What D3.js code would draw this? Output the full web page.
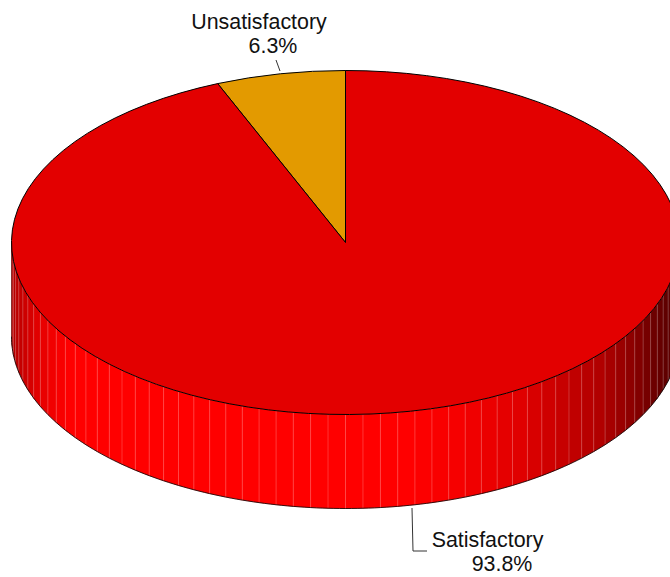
<!DOCTYPE html>
<html><head><meta charset="utf-8">
<script src="https://cdn.jsdelivr.net/npm/d3@7"></script>
<style>html,body{margin:0;padding:0;background:#fff}svg{display:block}text{font-family:"Liberation Sans",Arial,sans-serif;font-size:21.4px;fill:#111}</style>
</head><body><div id="c"></div>
<script>
const categories = ["Unsatisfactory", "Satisfactory"];
const values = [6.25, 93.75];
const percentLabels = ["6.3%", "93.8%"];
const sliceColors = ["#e39a00", "#e30000"];
const W = 670, H = 577;
const cx = 345.5, cy = 242.5, rx = 334, ry = 172, depth = 94, step = 3;
const svg = d3.select("#c").append("svg").attr("width", W).attr("height", H);

const pt = (deg, dy = 0) => {
  const a = deg * Math.PI / 180;
  return [cx + rx * Math.sin(a), cy - ry * Math.cos(a) + dy];
};
const shade = d3.scaleLinear()
  .domain([90, 107, 114, 118, 125, 130, 140, 148, 160, 170, 235, 243, 250, 255, 262, 270])
  .range(["#500000", "#600000", "#700000", "#800000", "#9c0000", "#b00000", "#c80000", "#df0000", "#f50000", "#ff0000", "#ff0000", "#ee0000", "#d80000", "#c80000", "#b80000", "#b00000"])
  .clamp(true);

// side wall facets (visible lower half of the drum)
const facets = d3.range(90, 270, step);
const line = d3.line();
svg.append("g").selectAll("path").data(facets).join("path")
  .attr("d", d => line([pt(d), pt(d + step), pt(d + step, depth), pt(d, depth)]) + "Z")
  .attr("fill", d => shade(d + step / 2))
  .attr("stroke", d => shade(d + step / 2)).attr("stroke-width", 0.4);
svg.append("g").selectAll("line").data(facets.slice(1)).join("line")
  .attr("x1", d => pt(d)[0]).attr("y1", d => pt(d)[1])
  .attr("x2", d => pt(d, depth)[0]).attr("y2", d => pt(d, depth)[1])
  .attr("stroke", "#fff").attr("stroke-opacity", 0.2).attr("stroke-width", 1);

// bottom outline
svg.append("path")
  .attr("d", line(d3.range(90, 270.5, 1).map(d => pt(d, depth))))
  .attr("fill", "none").attr("stroke", "#000").attr("stroke-width", 0.8);
svg.append("line").attr("x1", cx - rx).attr("x2", cx - rx).attr("y1", cy).attr("y2", cy + depth)
  .attr("stroke", "#000").attr("stroke-opacity", 0.4).attr("stroke-width", 0.8);

// top face
const pie = d3.pie().sort(null).startAngle(-2 * values[0] / 100 * Math.PI).endAngle(2 * Math.PI - 2 * values[0] / 100 * Math.PI);
const arc = d3.arc().innerRadius(0).outerRadius(rx);
svg.append("g").attr("transform", `translate(${cx},${cy}) scale(1,${ry / rx})`)
  .selectAll("path").data(pie(values)).join("path")
  .attr("d", arc)
  .attr("fill", (d, i) => sliceColors[i])
  .attr("stroke", "#000").attr("stroke-width", 1)
  .attr("vector-effect", "non-scaling-stroke").attr("stroke-linejoin", "round");

// leaders
const leader = d3.line();
const leaderPts = [[[276, 60], [280, 71]], [[412, 508], [413, 551], [427, 551]]];
svg.append("g").selectAll("path").data(leaderPts).join("path")
  .attr("d", d => leader(d)).attr("fill", "none").attr("stroke", "#333").attr("stroke-width", 1);

// labels
const labelPos = [[259, 29, 273, 53], [487.5, 547, 502, 571]];
labelPos.forEach((p, i) => {
  svg.append("text").attr("x", p[0]).attr("y", p[1]).attr("text-anchor", "middle").text(categories[i]);
  svg.append("text").attr("x", p[2]).attr("y", p[3]).attr("text-anchor", "middle").text(percentLabels[i]);
});
</script></body></html>
